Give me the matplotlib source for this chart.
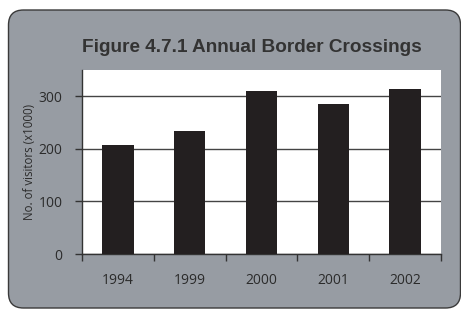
import matplotlib.pyplot as plt
from matplotlib.patches import FancyBboxPatch
import numpy as np

years = ['1994', '1999', '2000', '2001', '2002']
visitors = [207, 234, 311, 286, 314]

panel_col = '#979ca3'
bar_col = '#231f20'
txt_col = '#2b2b2b'

fig = plt.figure(figsize=(4.61, 3.11), dpi=100)
fig.patch.set_facecolor('white')

# rounded grey panel behind everything
panel = FancyBboxPatch((0.085, 0.03), 4.52, 2.98,
                       boxstyle='round,pad=0,rounding_size=0.15',
                       transform=fig.dpi_scale_trans,
                       facecolor=panel_col, edgecolor='#3a3a3a', lw=1.0, zorder=-10)
fig.add_artist(panel)

ax = fig.add_axes([82/461, 57/311, 359/461, 184/311])
ax.set_facecolor('white')

x = np.arange(len(years))
ax.bar(x, visitors, width=0.44, color=bar_col, zorder=3)

ax.set_xlim(-0.5, 4.5)
ax.set_ylim(0, 350)
ax.set_yticks([0, 100, 200, 300])
ax.yaxis.grid(True, color='#444444', lw=1.0, zorder=1)
ax.set_axisbelow(True)

ax.set_xticks(x)
ax.set_xticklabels(years)
ax.set_xticks(np.arange(-0.5, 5, 1), minor=True)
ax.tick_params(axis='x', which='major', length=0, pad=14, labelsize=10, labelcolor=txt_col)
ax.tick_params(axis='x', which='minor', length=5, width=1, color='#333333', direction='out')
ax.tick_params(axis='y', length=5, width=1, color='#333333', labelsize=10, labelcolor=txt_col, pad=9)

for t in ax.get_xticklabels() + ax.get_yticklabels():
    t.set_family('Open Sans')

for s in ['top', 'right']:
    ax.spines[s].set_visible(False)
for s in ['left', 'bottom']:
    ax.spines[s].set_color('#333333')
    ax.spines[s].set_linewidth(1.0)

ax.set_ylabel('No. of visitors (x1000)', fontsize=8.3, color=txt_col, family='Open Sans')
ax.yaxis.set_label_coords(-46/359, 0.5)

fig.text(252/461, 1 - 47/311, 'Figure 4.7.1 Annual Border Crossings',
         ha='center', va='center', fontsize=13.7, fontweight='bold',
         family='Liberation Sans', color='#333333')

fig.savefig('out.png', dpi=100)
